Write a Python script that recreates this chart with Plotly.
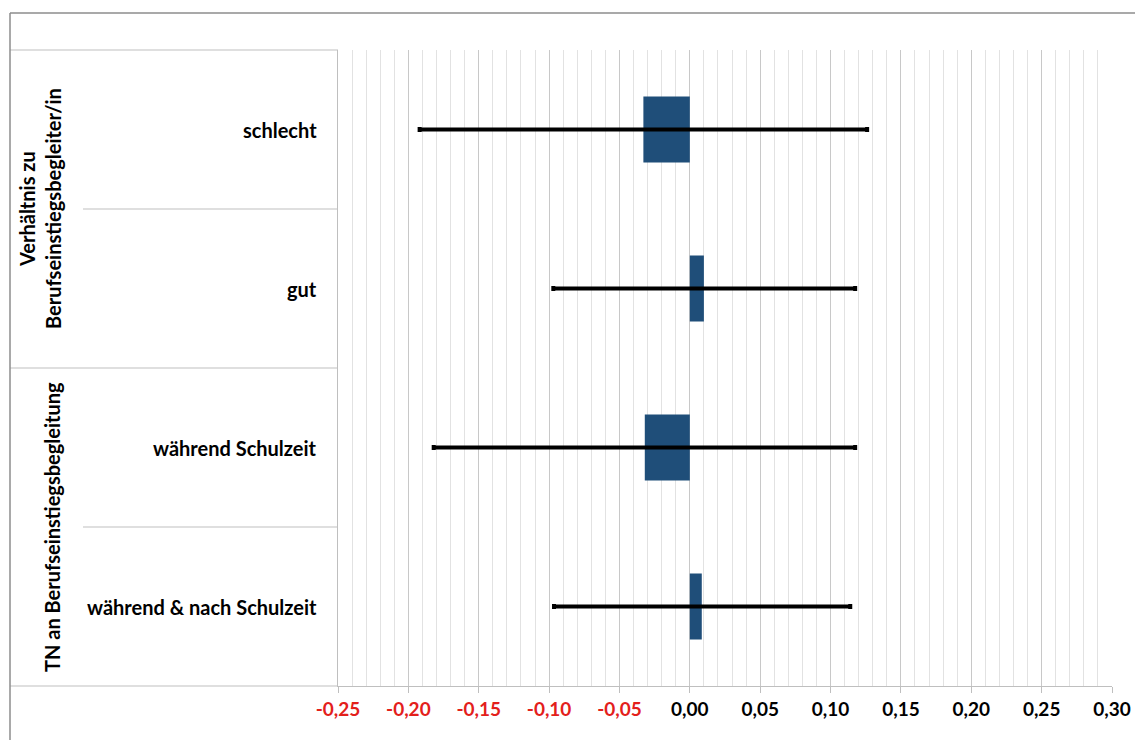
import plotly.graph_objects as go

# ---------------- data ----------------
groups = ["Verhältnis zu<br>Berufseinstiegsbegleiter/in", "TN an Berufseinstiegsbegleitung"]
categories = ["schlecht", "gut", "während Schulzeit", "während & nach Schulzeit"]
category_group = [0, 0, 1, 1]
values = [-0.033, 0.010, -0.032, 0.0085]
ci_low = [-0.192, -0.097, -0.182, -0.0965]
ci_high = [0.126, 0.1175, 0.1175, 0.114]
tick_values = [-0.25, -0.20, -0.15, -0.10, -0.05, 0.00, 0.05, 0.10, 0.15, 0.20, 0.25, 0.30]
tick_labels = ["-0,25", "-0,20", "-0,15", "-0,10", "-0,05", "0,00", "0,05", "0,10", "0,15", "0,20", "0,25", "0,30"]

# ---------------- layout geometry (pixels) ----------------
W, H = 1135, 740
L, R, T, B = 338, 1112, 50, 686
pw, ph = R - L, B - T


def px(p):
    return (p - L) / pw


def py(p):
    return (B - p) / ph


FONT = "Lato"
GRID_LINE = "#bfbfbf"

fig = go.Figure()
fig.add_trace(go.Bar(
    y=categories, x=values, orientation="h",
    marker=dict(color="#1f4e79", line=dict(width=0)),
    width=0.415,
    error_x=dict(type="data", symmetric=False,
                 array=[h - v for h, v in zip(ci_high, values)],
                 arrayminus=[v - l for v, l in zip(values, ci_low)],
                 color="black", thickness=4, width=2.5),
    hoverinfo="x+y",
))

ticktext = []
for v, t in zip(tick_values, tick_labels):
    col = "#e3201b" if v < 0 else "#000000"
    ticktext.append(f"<span style='color:{col}'>{t}</span>")

fig.update_xaxes(
    range=[tick_values[0], tick_values[-1]],
    tickvals=tick_values, ticktext=ticktext,
    showgrid=True, gridcolor="#c8c8c8", gridwidth=1,
    minor=dict(dtick=0.01, showgrid=True, gridcolor="#e2e2e2", gridwidth=1, ticks=""),
    ticks="outside", ticklen=6, tickcolor="#bfbfbf",
    showline=True, linecolor=GRID_LINE, linewidth=1,
    zeroline=False, automargin=False,
    tickfont=dict(family=FONT, size=19, color="black", weight="bold"),
    fixedrange=True,
)
fig.update_yaxes(
    categoryorder="array", categoryarray=categories, autorange="reversed",
    showticklabels=False, showgrid=False, zeroline=False,
    showline=True, linecolor=GRID_LINE, linewidth=1, mirror=False,
    automargin=False, fixedrange=True,
)

shapes = []
line_style = dict(color=GRID_LINE, width=1)
# top line of category area
shapes.append(dict(type="line", xref="paper", yref="paper", x0=px(10), x1=0, y0=1, y1=1, line=line_style))
# bottom line extension
shapes.append(dict(type="line", xref="paper", yref="paper", x0=px(10), x1=0, y0=0, y1=0, line=line_style))
# group and subcategory separators
n = len(categories)
for i in range(1, n):
    yb = 1 - i / n
    if category_group[i] != category_group[i - 1]:
        x0 = px(10)
    else:
        x0 = px(83)
    shapes.append(dict(type="line", xref="paper", yref="paper", x0=x0, x1=0, y0=yb, y1=yb, line=line_style))
# outer frame
frame = dict(color="#8c8c8c", width=1.5)
shapes.append(dict(type="line", xref="paper", yref="paper", x0=px(10), x1=px(10), y0=py(13), y1=py(745), line=frame))
shapes.append(dict(type="line", xref="paper", yref="paper", x0=px(10), x1=px(1140), y0=py(13), y1=py(13), line=frame))

annotations = []
for i, c in enumerate(categories):
    annotations.append(dict(
        text=f"<b>{c}</b>", xref="paper", yref="y", x=px(319), y=c,
        xanchor="right", yanchor="middle", showarrow=False,
        font=dict(family=FONT, size=20, color="black"),
    ))
for g, gname in enumerate(groups):
    idx = [i for i, cg in enumerate(category_group) if cg == g]
    ymid = 1 - (idx[0] + idx[-1] + 1) / 2 / n
    nlines = gname.count("<br>") + 1
    annotations.append(dict(
        text=f"<b>{gname}</b>", xref="paper", yref="paper", x=px(64 - 12 * nlines), y=ymid,
        xanchor="center", yanchor="middle", textangle=-90, showarrow=False,
        font=dict(family=FONT, size=20, color="black"),
    ))

fig.update_layout(
    width=W, height=H,
    margin=dict(l=L, r=W - R, t=T, b=H - B, pad=0, autoexpand=False),
    paper_bgcolor="white", plot_bgcolor="white",
    showlegend=False, bargap=0.585,
    shapes=shapes, annotations=annotations,
    separators=",.",
)

fig.write_html("out.html", config={"displayModeBar": False},
               post_script="document.body.style.margin='0';document.body.style.overflow='hidden';")
